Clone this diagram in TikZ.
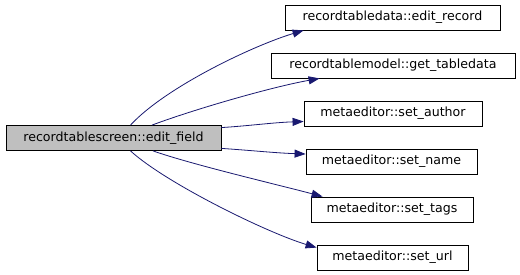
\documentclass[tikz,border=0pt]{standalone}
\usepackage{fontspec}
\setmainfont{DejaVu Sans}
\usetikzlibrary{arrows.meta}
\definecolor{edgeblue}{HTML}{191970}
\definecolor{mainfill}{HTML}{BFBFBF}
\begin{document}
\begin{tikzpicture}[x=1pt,y=-1pt,
  fn/.style={draw=black,line width=0.8pt,fill=white,minimum height=25pt,
    inner sep=0pt,font=\fontsize{12.6}{14}\selectfont},
  call/.style={draw=edgeblue,line width=0.8pt,
    -{Triangle[length=11pt,width=8pt,fill=edgeblue]}}]
\useasboundingbox (0,0) rectangle (520,275);

\node[fn,fill=mainfill,minimum width=215pt] (main) at (113.5,138) {recordtablescreen::edit\_field};
\node[fn,minimum width=215pt] (rec)  at (392.5,17.5)  {recordtabledata::edit\_record};
\node[fn,minimum width=244pt] (tbl)  at (393,65.5)    {recordtablemodel::get\_tabledata};
\node[fn,minimum width=178pt] (auth) at (393,113.5)   {metaeditor::set\_author};
\node[fn,minimum width=171pt] (name) at (391.5,161.5) {metaeditor::set\_name};
\node[fn,minimum width=162pt] (tags) at (392,209.5)   {metaeditor::set\_tags};
\node[fn,minimum width=151pt] (url)  at (392.5,257.5) {metaeditor::set\_url};

\draw[call] ([xshift=17pt]main.north) .. controls +(35,-38) and +(-50,15) .. ([xshift=19pt]rec.south west);
\draw[call] ([xshift=38.5pt]main.north) .. controls +(40,-15) and +(-50,9) .. ([xshift=49pt]tbl.south west);
\draw[call] ([yshift=-2.5pt]main.north east) .. controls +(30,-2) and +(-30,1) .. ([yshift=-8pt]auth.west);
\draw[call] ([yshift=2.5pt]main.south east) .. controls +(30,2) and +(-30,-1) .. ([yshift=7.5pt]name.west);
\draw[call] ([xshift=39.5pt]main.south) .. controls +(40,14) and +(-45,-12) .. ([xshift=12pt]tags.north west);
\draw[call] ([xshift=17pt]main.south) .. controls +(35,32) and +(-50,-15) .. ([yshift=-3pt]url.north west);
\end{tikzpicture}
\end{document}
